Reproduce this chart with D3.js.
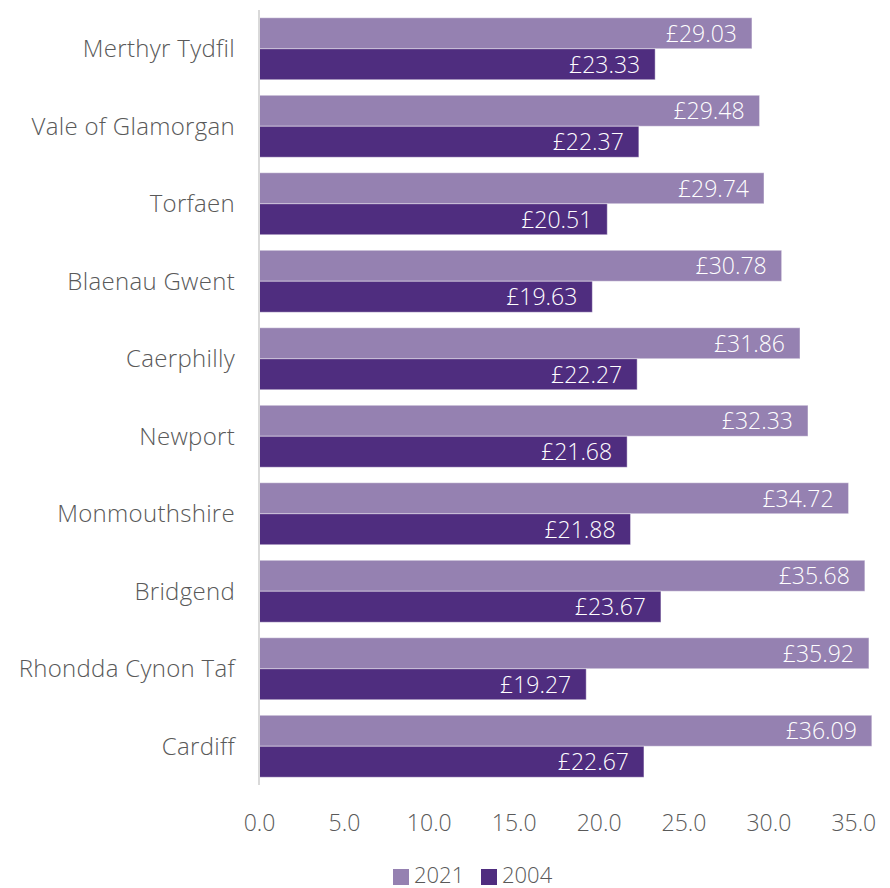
<!DOCTYPE html>
<html>
<head>
<meta charset="utf-8">
<script src="https://cdn.jsdelivr.net/npm/d3@7"></script>
<style>
  html, body { margin: 0; padding: 0; background: #fff; }
  svg { display: block; }
  text { font-family: "Open Sans", "Noto Sans", sans-serif; font-weight: 300; }
</style>
</head>
<body>
<div id="chart"></div>
<script>
// Hourly pay by local authority, 2021 vs 2004
const areas = ["Merthyr Tydfil", "Vale of Glamorgan", "Torfaen", "Blaenau Gwent", "Caerphilly",
  "Newport", "Monmouthshire", "Bridgend", "Rhondda Cynon Taf", "Cardiff"];
const pay2021 = [29.03, 29.48, 29.74, 30.78, 31.86, 32.33, 34.72, 35.68, 35.92, 36.09];
const pay2004 = [23.33, 22.37, 20.51, 19.63, 22.27, 21.68, 21.88, 23.67, 19.27, 22.67];
const seriesNames = ["2021", "2004"];
const xTicks = [0, 5, 10, 15, 20, 25, 30, 35];

const colors = { "2021": "#9581b1", "2004": "#4f2d7f" };
const W = 890, H = 888;

const svg = d3.select("#chart").append("svg").attr("width", W).attr("height", H);

const x = d3.scaleLinear().domain([0, 36.1]).range([259, 872]);
const y = d3.scaleBand().domain(areas).range([10, 785]).paddingInner(0.2).paddingOuter(0.1);
const sub = d3.scaleBand().domain(seriesNames).range([0, y.bandwidth()]);

const rows = areas.map((a, i) => ({ area: a, values: [
  { key: "2021", v: pay2021[i] }, { key: "2004", v: pay2004[i] } ] }));

const g = svg.append("g").selectAll("g").data(rows).join("g")
  .attr("transform", d => `translate(0,${y(d.area)})`);

g.selectAll("rect").data(d => d.values).join("rect")
  .attr("x", x(0))
  .attr("y", d => sub(d.key))
  .attr("width", d => x(d.v) - x(0))
  .attr("height", sub.bandwidth())
  .attr("fill", d => colors[d.key])
  .attr("stroke", "rgba(255,255,255,0.45)")
  .attr("stroke-width", 1);

g.selectAll("text.val").data(d => d.values).join("text")
  .attr("class", "val")
  .attr("x", d => x(d.v) - 15)
  .attr("y", d => sub(d.key) + sub.bandwidth() / 2)
  .attr("dy", "0.36em")
  .attr("text-anchor", "end")
  .attr("fill", "#fff")
  .attr("font-size", 23)
  .text(d => "£" + d.v.toFixed(2));

// Category labels
svg.append("g").selectAll("text").data(areas).join("text")
  .attr("x", 235)
  .attr("y", d => y(d) + y.bandwidth() / 2)
  .attr("dy", "0.36em")
  .attr("text-anchor", "end")
  .attr("fill", "#595959")
  .attr("font-size", 24)
  .attr("letter-spacing", 0.3)
  .text(d => d);

// Vertical baseline
svg.append("line")
  .attr("x1", x(0)).attr("x2", x(0))
  .attr("y1", 10).attr("y2", 785)
  .attr("stroke", "#d9d9d9").attr("stroke-width", 2);

// X axis tick labels
const xAxis = d3.axisBottom(x).tickValues(xTicks).tickFormat(d3.format(".1f")).tickSize(0).tickPadding(0);
const ax = svg.append("g").attr("transform", "translate(0,831)").call(xAxis);
ax.select(".domain").remove();
ax.selectAll("text").attr("y", 0).attr("dy", 0).attr("font-size", 23).attr("fill", "#595959")
  .attr("font-family", "'Open Sans', 'Noto Sans', sans-serif").attr("font-weight", 300);

// Legend
const leg = svg.append("g").selectAll("g").data(seriesNames).join("g")
  .attr("transform", (d, i) => `translate(${393 + i * 88},869)`);
leg.append("rect").attr("width", 16).attr("height", 16).attr("fill", d => colors[d]);
leg.append("text").attr("x", 21).attr("y", 14)
  .attr("font-size", 22).attr("fill", "#595959").text(d => d);
</script>
</body>
</html>
